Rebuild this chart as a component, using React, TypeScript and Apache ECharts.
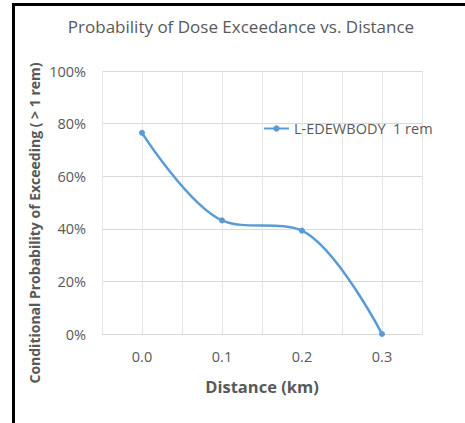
import React, { useEffect, useRef } from "react";
import * as echarts from "echarts";

const distances = [0.0, 0.1, 0.2, 0.3];
const probability = [76.5, 43.2, 39.3, 0];
const seriesName = "L-EDEWBODY  1 rem";
const chartTitle = "Probability of Dose Exceedance vs. Distance";
const xTitle = "Distance (km)";
const yTitle = "Conditional Probability of Exceeding ( > 1 rem)";

const FONT = "'Open Sans', sans-serif";
const TXT = "#595959";

export default function App() {
  const ref = useRef<HTMLDivElement>(null);
  useEffect(() => {
    if (!ref.current) return;
    const chart = echarts.init(ref.current, undefined, { renderer: "svg" });
    chart.setOption({
      animation: false,
      backgroundColor: "#ffffff",
      textStyle: { fontFamily: FONT },
      title: {
        text: chartTitle,
        left: 236,
        top: 13,
        textAlign: "center",
        textStyle: { fontFamily: FONT, fontSize: 17, fontWeight: "normal", color: TXT },
      },
      legend: {
        data: [seriesName],
        left: 258,
        top: 116,
        itemWidth: 25,
        itemHeight: 8,
        itemGap: 6,
        textStyle: { fontFamily: FONT, fontSize: 14.5, color: TXT },
      },
      grid: { left: 102, right: 43, top: 71, bottom: 89, containLabel: false },
      xAxis: {
        type: "value",
        min: -0.05,
        max: 0.35,
        interval: 0.05,
        name: xTitle,
        nameLocation: "middle",
        nameGap: 44,
        nameTextStyle: { fontFamily: FONT, fontSize: 16.5, fontWeight: "bold", color: TXT },
        axisLine: { show: true, lineStyle: { color: "#D9D9D9" } },
        axisTick: { show: false },
        splitLine: { show: true, lineStyle: { color: "#E6E6E6" } },
        axisLabel: {
          color: TXT,
          fontFamily: FONT,
          fontSize: 14.5,
          margin: 15,
          formatter: (v: number) => {
            const t = v * 10;
            if (v < -1e-9 || Math.abs(t - Math.round(t)) > 1e-6) return "";
            return v.toFixed(1);
          },
        },
      },
      yAxis: {
        type: "value",
        min: 0,
        max: 100,
        interval: 20,
        axisLine: { show: false },
        axisTick: { show: false },
        splitLine: { show: true, lineStyle: { color: "#D9D9D9" } },
        axisLabel: {
          color: TXT,
          fontFamily: FONT,
          fontSize: 14.5,
          margin: 16,
          formatter: "{value}%",
        },
      },
      graphic: [
        {
          type: "text",
          x: 34,
          y: 223,
          rotation: Math.PI / 2,
          style: {
            text: yTitle,
            fontFamily: FONT,
            fontSize: 14,
            fontWeight: "bold",
            fill: TXT,
            align: "center",
            verticalAlign: "middle",
          },
        },
        { type: "rect", shape: { x: 12, y: 3, width: 3, height: 420 }, style: { fill: "#000" } },
        { type: "rect", shape: { x: 12, y: 3, width: 453, height: 3 }, style: { fill: "#000" } },
      ],
      series: [
        {
          name: seriesName,
          type: "line",
          smooth: 0.35,
          data: distances.map((d, i) => [d, probability[i]]),
          symbol: "circle",
          symbolSize: 6,
          itemStyle: { color: "#5B9BD5" },
          lineStyle: { color: "#5B9BD5", width: 2.5 },
        },
      ],
    });
    return () => chart.dispose();
  }, []);
  return (
    <div
      ref={ref}
      style={{ position: "fixed", left: 0, top: 0, width: 465, height: 423 }}
    />
  );
}
